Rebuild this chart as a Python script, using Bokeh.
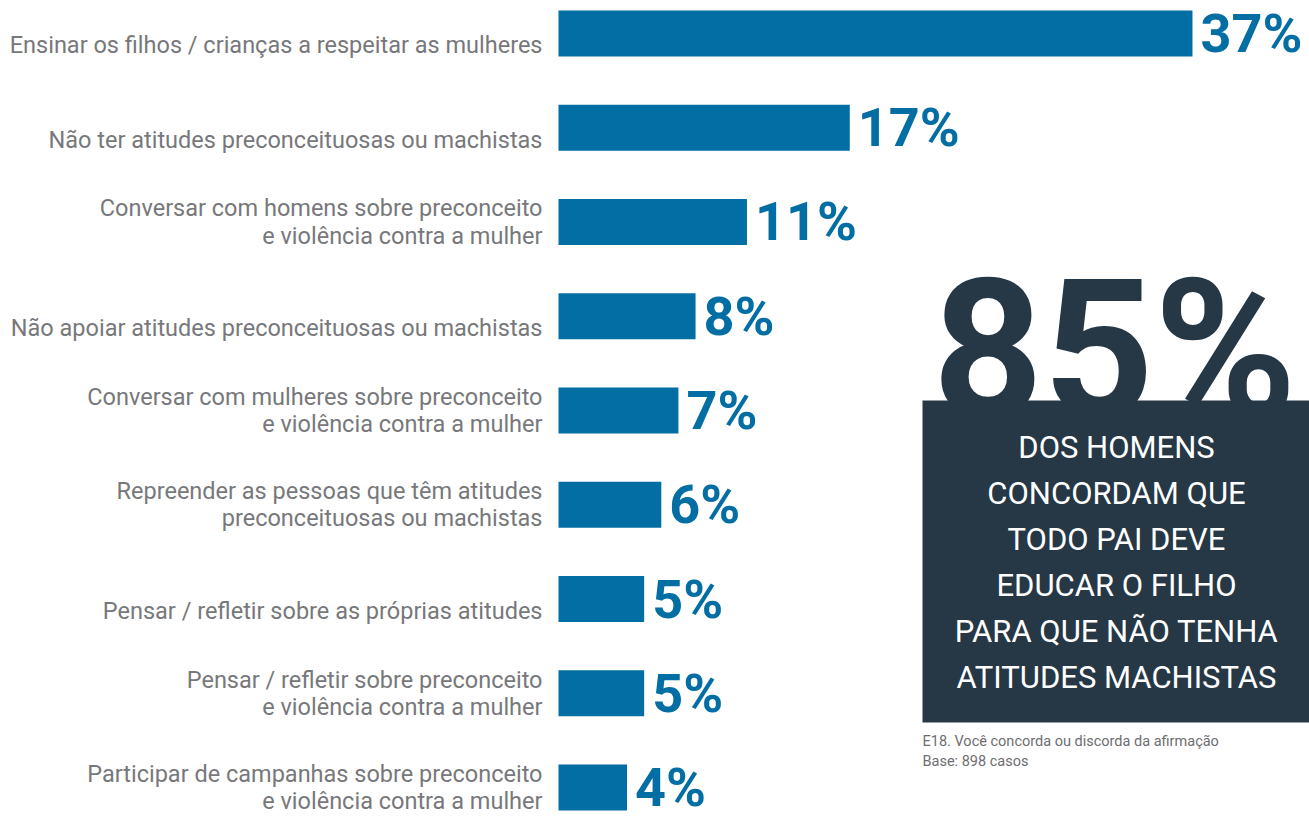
from bokeh.plotting import figure
from bokeh.models import Range1d, ColumnDataSource
from bokeh.core.properties import value
from bokeh.embed import file_html
from bokeh.resources import INLINE

# ---- data ----
categories = [
    "Ensinar os filhos / crianças a respeitar as mulheres",
    "Não ter atitudes preconceituosas ou machistas",
    "Conversar com homens sobre preconceito\ne violência contra a mulher",
    "Não apoiar atitudes preconceituosas ou machistas",
    "Conversar com mulheres sobre preconceito\ne violência contra a mulher",
    "Repreender as pessoas que têm atitudes\npreconceituosas ou machistas",
    "Pensar / refletir sobre as próprias atitudes",
    "Pensar / refletir sobre preconceito\ne violência contra a mulher",
    "Participar de campanhas sobre preconceito\ne violência contra a mulher",
]
values = [37, 17, 11, 8, 7, 6, 5, 5, 4]
value_labels = [f"{v}%" for v in values]

headline = "85%"
box_lines = [
    "DOS HOMENS",
    "CONCORDAM QUE",
    "TODO PAI DEVE",
    "EDUCAR O FILHO",
    "PARA QUE NÃO TENHA",
    "ATITUDES MACHISTAS",
]
footnote = [
    "E18. Você concorda ou discorda da afirmação",
    "Base: 898 casos",
]

# ---- style ----
BLUE = "#036ea4"
GRAY = "#77787b"
DARK = "#263746"
FONT = value("Roboto")

W, H = 1309, 820

p = figure(width=W, height=H, output_backend="svg", toolbar_location=None,
           x_range=Range1d(0, W), y_range=Range1d(H, 0),
           x_axis_type=None, y_axis_type=None, min_border=0,
           outline_line_color=None, background_fill_color="white",
           border_fill_color="white")
p.grid.visible = False

# value axis (percent) and row axis (rank, top to bottom)
p.extra_x_ranges = {"pct": Range1d(-32.565, 43.83)}
p.extra_y_ranges = {"rows": Range1d(8.3501, -0.3501)}

src = ColumnDataSource(dict(
    row=list(range(len(categories))),
    cat=categories,
    val=values,
    vlab=value_labels,
    loff=[0 if "\n" in c else 12 for c in categories],
))

p.hbar(y="row", right="val", left=0, height=0.488, source=src,
       x_range_name="pct", y_range_name="rows",
       fill_color=BLUE, line_color=None)

p.text(x=0, y="row", text="cat", source=src,
       x_range_name="pct", y_range_name="rows",
       x_offset=-16, y_offset="loff",
       text_align="right", text_baseline="middle",
       text_font=FONT, text_font_size="23.5px", text_color=GRAY,
       text_line_height=0.98)

p.text(x="val", y="row", text="vlab", source=src,
       x_range_name="pct", y_range_name="rows",
       x_offset=8, y_offset=0,
       text_align="left", text_baseline="middle",
       text_font=FONT, text_font_style="bold", text_font_size="54px",
       text_color=BLUE)

# headline number (partly covered by the box)
p.text(x=[1114], y=[349], text=[headline], text_align="center",
       text_baseline="alphabetic", text_font=FONT, text_font_style="bold",
       text_font_size="193px", text_color=DARK)

p.quad(left=[922], right=[W], top=[400], bottom=[722],
       fill_color=DARK, line_color=None)

p.text(x=[1116], y=[562], text=["\n".join(box_lines)], text_align="center",
       text_baseline="middle", text_font=FONT, text_font_size="31px",
       text_color="white", text_line_height=1.24)

p.text(x=[922], y=[751], text=["\n".join(footnote)], text_align="left",
       text_baseline="middle", text_font=FONT, text_font_size="14.5px",
       text_color="#6d6e71", text_line_height=1.13)

open("out.html", "w").write(file_html(p, INLINE))
